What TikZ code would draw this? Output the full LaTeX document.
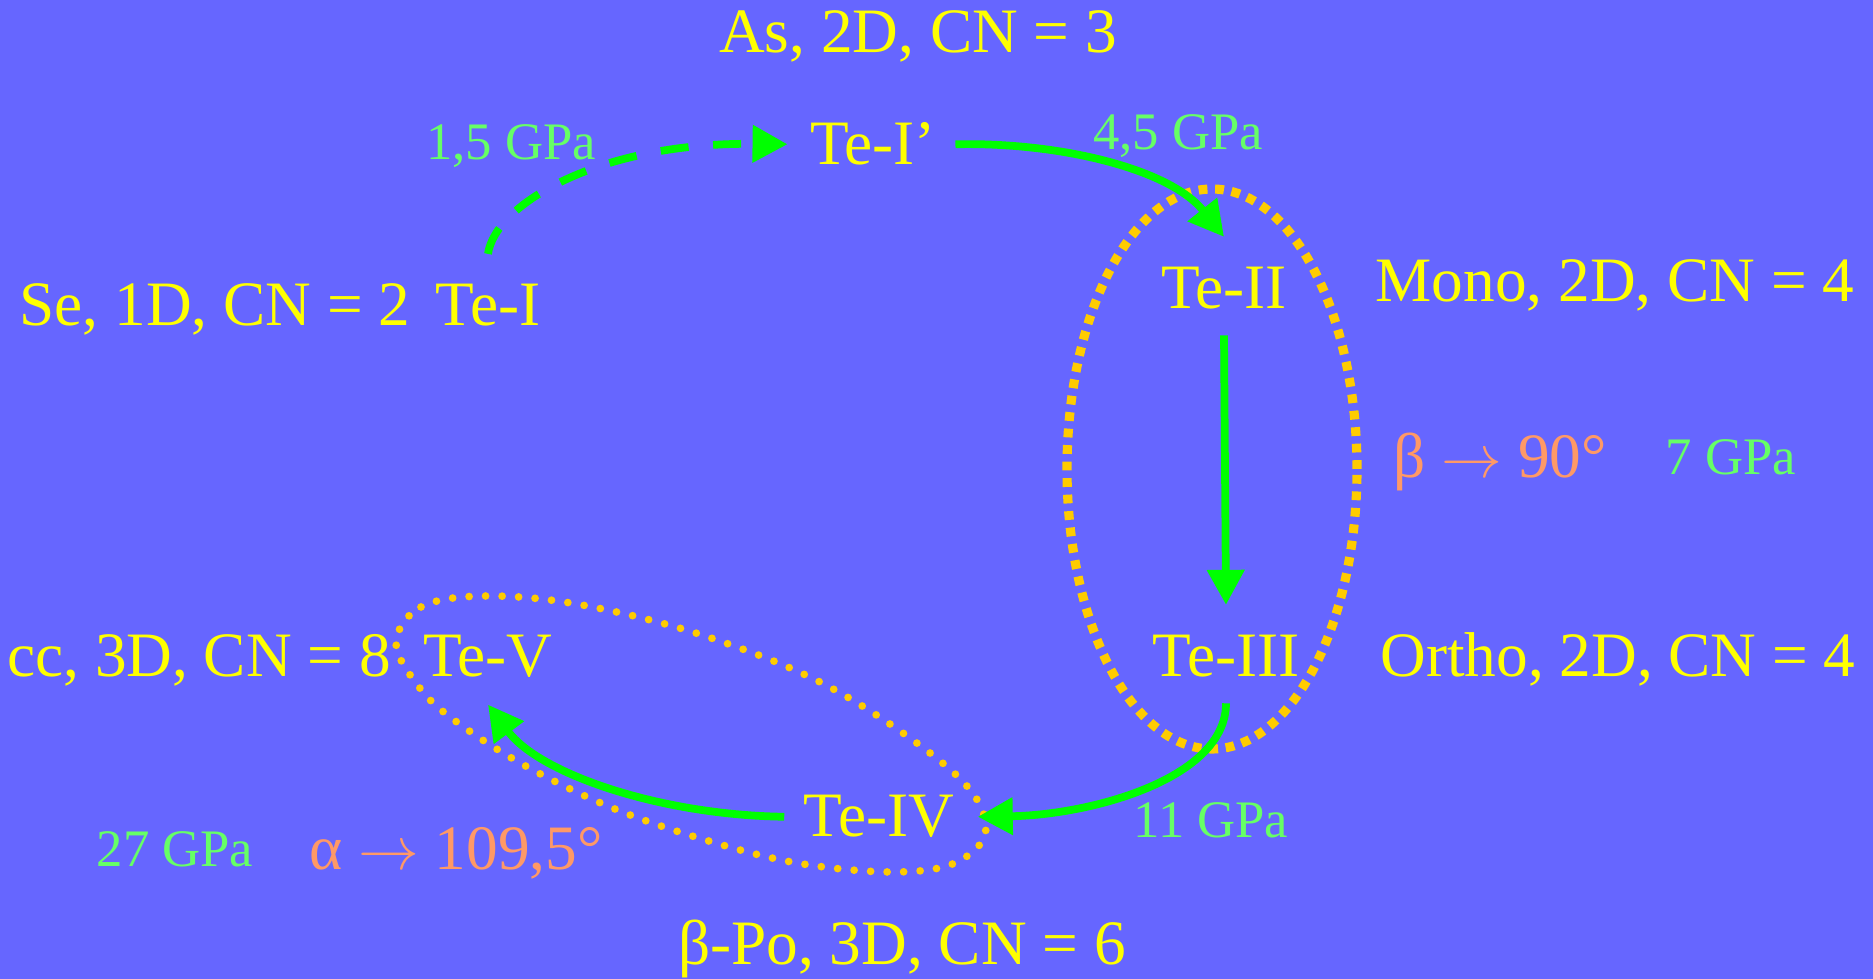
\documentclass[tikz,border=0pt]{standalone}
\usepackage{fontspec}
\setmainfont{Liberation Serif}
\usepackage{xcolor}
\usepackage{tikz}
\usetikzlibrary{positioning, arrows.meta, calc}
\definecolor{slideblue}{HTML}{6666FF}
\definecolor{phaseyellow}{HTML}{FFFF00}
\definecolor{arrowgreen}{HTML}{00FF00}
\definecolor{gpagreen}{HTML}{66FF66}
\definecolor{anglesalmon}{HTML}{FF9966}
\definecolor{loopgold}{HTML}{FFCC00}

\begin{document}
\begin{tikzpicture}[
    phase/.style={text=phaseyellow, font=\fontsize{18}{20}\selectfont, anchor=base, inner sep=0pt},
    press/.style={text=gpagreen, font=\fontsize{15}{17}\selectfont, anchor=base, inner sep=0pt},
    bond/.style={text=anglesalmon, font=\fontsize{18}{20}\selectfont, anchor=base, inner sep=0pt},
    trans/.style={draw=arrowgreen, line width=2.2pt, -{Triangle[length=3.5mm, width=3.6mm]}},
  ]
    \fill[slideblue] (0,0) rectangle (18.73,9.79);

    % dotted groupings
    \draw[loopgold, line width=2.6pt, dash pattern=on 2.5pt off 2.2pt]
      (12.12,5.10) ellipse [x radius=1.45, y radius=2.80];
    \draw[loopgold, line width=2.2pt, line cap=round, dash pattern=on 0pt off 4.7pt]
      plot[smooth cycle, tension=0.6] coordinates {
        (3.96,3.36) (4.21,3.72) (4.85,3.83) (5.82,3.74) (7.08,3.42) (8.35,2.89)
        (9.53,2.07) (9.86,1.52) (9.57,1.17) (8.94,1.07) (7.97,1.16) (7.02,1.40)
        (6.10,1.72) (5.22,2.15) (4.54,2.59) (4.19,2.92)};

    % phases
    \node[phase] (teI)   at (4.88,6.53) {Te-I};
    \node[phase] (teIp)  at (8.73,8.14) {Te-I’};
    \node[phase] (teII)  at (12.24,6.70) {Te-II};
    \node[phase] (teIII) at (12.26,3.02) {Te-III};
    \node[phase] (teIV)  at (8.79,1.42) {Te-IV};
    \node[phase] (teV)   at (4.88,3.02) {Te-V};

    % structures
    \node[phase] (as)    at (9.18,9.26) {As, 2D, CN = 3};
    \node[phase] (se)    at (2.15,6.53) {Se, 1D, CN = 2};
    \node[phase] (mono)  at (16.15,6.77) {Mono, 2D, CN = 4};
    \node[phase] (ortho) at (16.18,3.02) {Ortho, 2D, CN = 4};
    \node[phase] (cc)    at (1.99,3.02) {cc, 3D, CN = 8};
    \node[phase] (bpo)   at (9.02,0.14) {β-Po, 3D, CN = 6};

    % pressures and angles
    \node[press] (p15) at (5.11,8.19) {1,5 GPa};
    \node[press] (p45) at (11.78,8.29) {4,5 GPa};
    \node[press] (p7)  at (17.31,5.04) {7 GPa};
    \node[press] (p11) at (12.11,1.41) {11 GPa};
    \node[press] (p27) at (1.75,1.12) {27 GPa};
    \node[bond] (betaang)  at (15.00,5.01) {β $\rightarrow$ 90°};
    \node[bond] (alphaang) at (4.56,1.09) {α $\rightarrow$ 109,5°};

    % transitions
    \draw[trans, dash pattern=on 8pt off 7pt]
      ([yshift=3mm]teI.north) .. controls (4.95,7.75) and (6.0,8.37) .. ([xshift=-2.2mm]teIp.west);
    \draw[trans]
      ([xshift=1.9mm]teIp.east) .. controls (10.6,8.37) and (11.7,8.1) .. ([yshift=3mm]teII.north);
    \draw[trans] ([yshift=-2.5mm]teII.south) -- ([yshift=3mm]teIII.north);
    \draw[trans]
      ([yshift=-2.5mm]teIII.south) .. controls (12.26,2.0) and (10.9,1.64) .. ([xshift=2.3mm]teIV.east);
    \draw[trans]
      ([xshift=-1.9mm]teIV.west) .. controls (6.6,1.64) and (5.4,2.05) .. ([yshift=-2.6mm]teV.south);
\end{tikzpicture}
\end{document}
